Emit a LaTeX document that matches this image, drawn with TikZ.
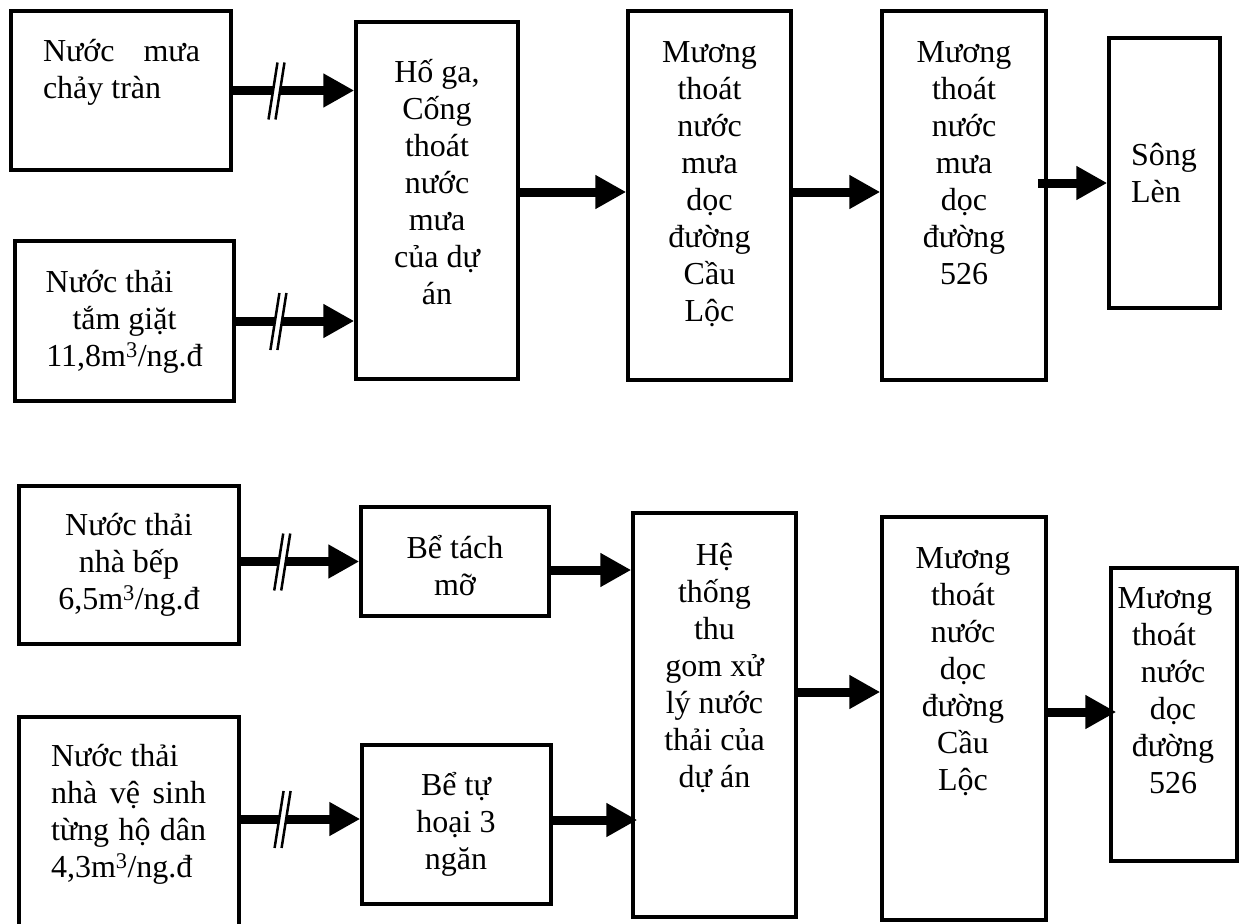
\documentclass[tikz,border=0pt]{standalone}
\usepackage{fontspec}
\setmainfont{Liberation Serif}
\usetikzlibrary{arrows.meta,calc}
\tikzset{
  box/.style={draw=black,line width=3.5pt,inner sep=0pt},
  txt/.style={anchor=north,inner sep=0pt,text width=160,align=flush center,font=\fontsize{32}{37}\selectfont,execute at begin node={\rule{0pt}{30pt}}},
  flow/.style={-{Triangle[length=31pt,width=32pt]},line width=9pt},
  brk/.pic={
    \fill[white] (-8,29) -- (1,-28) -- (8,-28) -- (-1,29) -- cycle;
    \draw[line width=2.5pt] (-8,29) -- (1,-28) (-1,29) -- (8,-28);}}
\begin{document}
\begin{tikzpicture}[x=1pt,y=-1pt]
  \useasboundingbox (0,0) rectangle (1241,923);
  \node[box,minimum width=220,minimum height=159] (rain) at (121,90.5) {};
  \node[box,minimum width=219,minimum height=160] (bath) at (124.5,321) {};
  \node[box,minimum width=162,minimum height=357] (sump) at (437,200.5) {};
  \node[box,minimum width=163,minimum height=369] (ditchA) at (709.5,195.5) {};
  \node[box,minimum width=164,minimum height=369] (ditchB) at (964,195.5) {};
  \node[box,minimum width=111,minimum height=270] (river) at (1164.5,173) {};
  \node[box,minimum width=220,minimum height=158] (kitchen) at (129,565) {};
  \node[box,minimum width=220,minimum height=223] (toilet) at (129,828.5) {};
  \node[box,minimum width=188,minimum height=109] (grease) at (455,561.5) {};
  \node[box,minimum width=189,minimum height=159] (septic) at (456.5,824.5) {};
  \node[box,minimum width=163,minimum height=404] (plant) at (714.5,715) {};
  \node[box,minimum width=164,minimum height=403] (ditchC) at (964,718.5) {};
  \node[box,minimum width=126,minimum height=293] (ditchD) at (1174,714.5) {};

  \node[txt,text width=157,align=flush left] (rainT) at (121.5,31) {Nước\hfill mưa\\chảy tràn};
  \node[txt] (bathT) at (124.5,262) {Nước thải\rule{30pt}{0pt}\\tắm giặt\\11,8m\textsuperscript{3}/ng.đ};
  \node[txt] (sumpT) at (437,52) {Hố ga,\\Cống\\thoát\\nước\\mưa\\của dự\\án};
  \node[txt] (ditchAT) at (709.5,32) {Mương\\thoát\\nước\\mưa\\dọc\\đường\\Cầu\\Lộc};
  \node[txt] (ditchBT) at (964,32) {Mương\\thoát\\nước\\mưa\\dọc\\đường\\526};
  \node[txt,text width=66,align=flush left] (riverT) at (1164,135) {Sông\\Lèn};
  \node[txt] (kitchenT) at (129,505) {Nước thải\\nhà bếp\\6,5m\textsuperscript{3}/ng.đ};
  \node[txt,text width=155,align=flush left] (toiletT) at (128.5,736) {Nước thải\\nhà\hfill vệ\hfill sinh\\từng\hfill hộ\hfill dân\\4,3m\textsuperscript{3}/ng.đ};
  \node[txt] (greaseT) at (455,528) {Bể tách\\mỡ};
  \node[txt] (septicT) at (456,765) {Bể tự\\hoại 3\\ngăn};
  \node[txt] (plantT) at (714.5,535) {Hệ\\thống\\thu\\gom xử\\lý nước\\thải của\\dự án};
  \node[txt] (ditchCT) at (963,538) {Mương\\thoát\\nước\\dọc\\đường\\Cầu\\Lộc};
  \node[txt] (ditchDT) at (1173,578) {Mương\rule{16pt}{0pt}\\thoát\rule{18pt}{0pt}\\nước\\dọc\\đường\\526};

  \draw[flow] (rain.east) -- coordinate[pos=.36] (k1) (rain.east -| sump.west);
  \draw[flow] (bath.east) -- coordinate[pos=.36] (k2) (bath.east -| sump.west);
  \draw[flow] ($(sump.east |- ditchA.west)+(0,-3.5)$) -- ($(ditchA.west)+(0,-3.5)$);
  \draw[flow] ($(ditchA.east)+(0,-3.5)$) -- ($(ditchB.west)+(0,-3.5)$);
  \draw[flow] ($(ditchB.east)+(-10,-12.5)$) -- ($(river.west)+(0,10)$);
  \draw[flow] (grease.west -| kitchen.east) -- coordinate[pos=.35] (k3) (grease.west);
  \draw[flow] ($(septic.west -| toilet.east)+(0,-5.5)$) -- coordinate[pos=.35] (k4) ($(septic.west)+(0,-5.5)$);
  \draw[flow] ($(grease.east)+(0,8.5)$) -- ($(grease.east -| plant.west)+(0,8.5)$);
  \draw[flow] ($(septic.east)+(0,-4.5)$) -- ($(septic.east -| plant.west)+(6,-4.5)$);
  \draw[flow] ($(plant.east)+(0,-23)$) -- ($(plant.east -| ditchC.west)+(0,-23)$);
  \draw[flow] ($(ditchD.west -| ditchC.east)+(0,-2.5)$) -- ($(ditchD.west)+(7,-2.5)$);
  \pic at (k1) {brk};
  \pic at (k2) {brk};
  \pic at (k3) {brk};
  \pic at (k4) {brk};
\end{tikzpicture}
\end{document}
